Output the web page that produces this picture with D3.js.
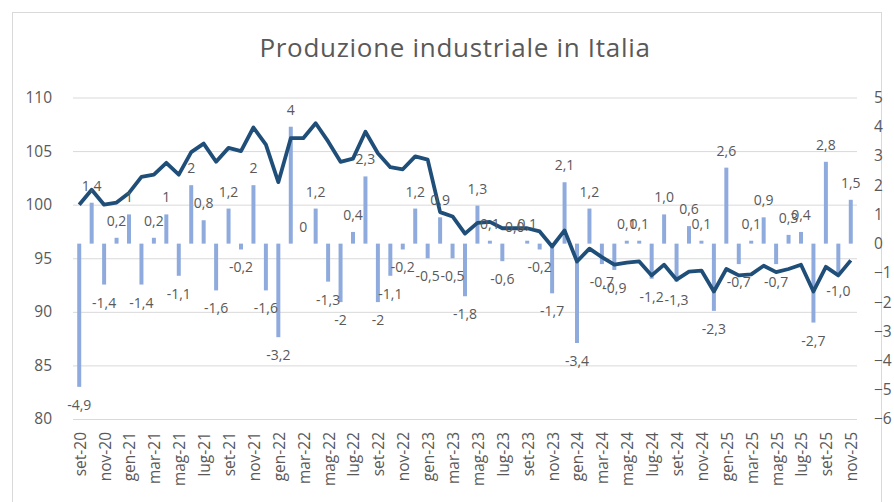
<!DOCTYPE html>
<html>
<head>
<meta charset="utf-8">
<script src="https://cdn.jsdelivr.net/npm/d3@7"></script>
<style>
  body { margin: 0; background: #fff; }
  svg { display: block; }
  text { font-family: "Open Sans", Lato, sans-serif; fill: #595959; }
</style>
</head>
<body>
<div id="chart"></div>
<script>
// Categories (month labels, Italian)
const months = [
  "set-20","ott-20","nov-20","dic-20",
  "gen-21","feb-21","mar-21","apr-21","mag-21","giu-21","lug-21","ago-21","set-21","ott-21","nov-21","dic-21",
  "gen-22","feb-22","mar-22","apr-22","mag-22","giu-22","lug-22","ago-22","set-22","ott-22","nov-22","dic-22",
  "gen-23","feb-23","mar-23","apr-23","mag-23","giu-23","lug-23","ago-23","set-23","ott-23","nov-23","dic-23",
  "gen-24","feb-24","mar-24","apr-24","mag-24","giu-24","lug-24","ago-24","set-24","ott-24","nov-24","dic-24",
  "gen-25","feb-25","mar-25","apr-25","mag-25","giu-25","lug-25","ago-25","set-25","ott-25","nov-25"
];

// Index level (left axis, line)
const indexLevel = [
  100.0, 101.4, 100.0, 100.2,
  101.1, 102.6, 102.8, 103.9, 102.8, 104.9, 105.7, 104.0, 105.3, 105.0, 107.2, 105.6,
  102.1, 106.2, 106.2, 107.6, 105.9, 104.0, 104.3, 106.8, 104.8, 103.5, 103.3, 104.5,
  104.2, 99.3, 98.9, 97.3, 98.3, 98.4, 97.8, 97.8, 97.8, 97.5, 96.1, 97.6,
  94.7, 95.9, 95.1, 94.4, 94.6, 94.7, 93.4, 94.4, 93.0, 93.75, 93.85, 91.9,
  94.0, 93.4, 93.5, 94.3, 93.7, 94.0, 94.4, 91.9, 94.2, 93.4, 94.8
];

// Monthly % change (right axis, bars)
const monthlyChange = [
  -4.9, 1.4, -1.4, 0.2,
  1, -1.4, 0.2, 1, -1.1, 2, 0.8, -1.6, 1.2, -0.2, 2, -1.6,
  -3.2, 4, 0, 1.2, -1.3, -2, 0.4, 2.3, -2, -1.1, -0.2, 1.2,
  -0.5, 0.9, -0.5, -1.8, 1.3, 0.1, -0.6, 0.0, 0.1, -0.2, -1.7, 2.1,
  -3.4, 1.2, -0.7, -0.9, 0.1, 0.1, -1.2, 1.0, -1.3, 0.6, 0.1, -2.3,
  2.6, -0.7, 0.1, 0.9, -0.7, 0.3, 0.4, -2.7, 2.8, -1.0, 1.5
];

// Data labels as printed on the chart
const changeLabels = [
  "-4,9", "1,4", "-1,4", "0,2",
  "1", "-1,4", "0,2", "1", "-1,1", "2", "0,8", "-1,6", "1,2", "-0,2", "2", "-1,6",
  "-3,2", "4", "0", "1,2", "-1,3", "-2", "0,4", "2,3", "-2", "-1,1", "-0,2", "1,2",
  "-0,5", "0,9", "-0,5", "-1,8", "1,3", "0,1", "-0,6", "0,0", "0,1", "-0,2", "-1,7", "2,1",
  "-3,4", "1,2", "-0,7", "-0,9", "0,1", "0,1", "-1,2", "1,0", "-1,3", "0,6", "0,1", "-2,3",
  "2,6", "-0,7", "0,1", "0,9", "-0,7", "0,3", "0,4", "-2,7", "2,8", "-1,0", "1,5"
];

const leftTicks = [80, 85, 90, 95, 100, 105, 110];
const rightTicks = [-6, -5, -4, -3, -2, -1, 0, 1, 2, 3, 4, 5];

const chartWidth = 894;
const chartHeight = 502;
const plot = { left: 73, right: 857, top: 97.5, bottom: 419 };

const svg = d3.select("#chart")
    .append("svg")
    .attr("width", chartWidth)
    .attr("height", chartHeight);

// Chart border
svg.append("rect")
    .attr("x", 12.5).attr("y", 12.5)
    .attr("width", chartWidth - 25).attr("height", chartHeight - 10)
    .attr("fill", "none")
    .attr("stroke", "#d9d9d9");

// Scales
const x = d3.scaleBand()
    .domain(months)
    .range([plot.left, plot.right])
    .padding(0);

const yLeft = d3.scaleLinear()
    .domain([80, 110])
    .range([plot.bottom, plot.top]);

const yRight = d3.scaleLinear()
    .domain([-6, 5])
    .range([plot.bottom, plot.top]);

// Gridlines + left axis
const leftAxis = svg.append("g")
    .attr("transform", `translate(${plot.left},0)`)
    .call(d3.axisLeft(yLeft).tickValues(leftTicks).tickSize(-(plot.right - plot.left)).tickPadding(21));
leftAxis.select(".domain").remove();
leftAxis.selectAll("line").attr("stroke", "#d9d9d9");
leftAxis.selectAll("text")
    .style("font-size", "15.5px")
    .attr("fill", "#595959");

// Right axis
const rightAxis = svg.append("g")
    .attr("transform", `translate(${plot.right},0)`)
    .call(d3.axisRight(yRight).tickValues(rightTicks).tickSize(0).tickPadding(17));
rightAxis.select(".domain").remove();
rightAxis.selectAll("text")
    .style("font-size", "15.5px")
    .attr("fill", "#595959");

// Bars (monthly change)
const step = x.step();
svg.append("g")
    .selectAll("rect")
    .data(monthlyChange)
    .join("rect")
    .attr("x", (d, i) => x(months[i]) + step * 0.34)
    .attr("width", step * 0.32)
    .attr("y", d => yRight(Math.max(0, d)))
    .attr("height", d => Math.abs(yRight(d) - yRight(0)))
    .attr("fill", "#8faadc");

// Line (index level)
const line = d3.line()
    .x((d, i) => x(months[i]) + step / 2)
    .y(d => yLeft(d));

svg.append("path")
    .datum(indexLevel)
    .attr("d", line)
    .attr("fill", "none")
    .attr("stroke", "#1f4e79")
    .attr("stroke-width", 3.8)
    .attr("stroke-linejoin", "round");

// Data labels
svg.append("g")
    .selectAll("text")
    .data(monthlyChange)
    .join("text")
    .attr("x", (d, i) => x(months[i]) + step / 2)
    .attr("y", d => d >= 0 ? yRight(d) - 12 : yRight(d) + 23)
    .attr("text-anchor", "middle")
    .style("font-size", "14px")
    .text((d, i) => changeLabels[i]);

// X labels (every other month)
svg.append("g")
    .selectAll("text")
    .data(months.filter((m, i) => i % 2 === 0))
    .join("text")
    .attr("transform", d => `translate(${x(d) + step / 2 + 1},432) rotate(-90)`)
    .attr("text-anchor", "end")
    .attr("dy", "0.35em")
    .style("font-size", "15.5px")
    .text(d => d);

// Title
svg.append("text")
    .attr("x", 455)
    .attr("y", 57)
    .attr("text-anchor", "middle")
    .style("font-size", "26px")
    .style("letter-spacing", "0.7px")
    .text("Produzione industriale in Italia");
</script>
</body>
</html>
